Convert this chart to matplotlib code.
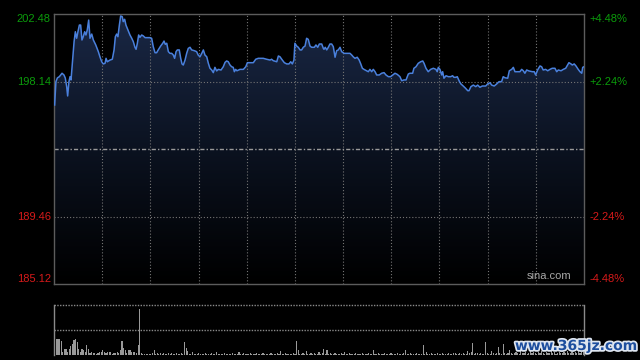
import matplotlib
matplotlib.use("Agg")
import matplotlib.pyplot as plt
import matplotlib.patheffects as pe
import matplotlib.transforms as mtrans
import numpy as np
from matplotlib.colors import LinearSegmentedColormap

# %% data (HK session, 330 minutes)
minutes = [
    0.4, 1.2, 2.1, 3.3, 5.0, 6.2, 7.0, 7.9, 8.5, 9.3, 10.0, 10.6, 11.4, 12.5, 13.3, 14.1, 14.9, 15.8, 16.6, 17.4,
    18.2, 19.1, 19.9, 20.7, 21.6, 22.4, 23.5, 24.5, 26.0, 27.6, 28.6, 29.7, 30.7, 31.8, 32.4, 33.2, 34.9, 36.3,
    37.4, 38.2, 39.0, 39.8, 40.7, 41.5, 42.5, 43.1, 44.0, 44.8, 45.6, 46.5, 47.3, 48.4, 49.4, 50.4, 51.1, 51.9,
    52.7, 53.5, 54.6, 55.6, 56.7, 59.8, 60.8, 61.8, 62.9, 63.9, 64.9, 66.4, 67.7, 68.5, 69.3, 70.2, 71.2, 72.2,
    73.3, 74.3, 75.1, 76.0, 76.8, 78.0, 78.9, 79.7, 80.5, 81.6, 82.6, 83.6, 84.7, 85.7, 87.4, 88.8, 89.8, 90.9,
    92.0, 93.0, 94.0, 95.1, 96.1, 97.1, 98.2, 99.2, 100.2, 101.3, 102.3, 104.0, 105.4, 106.5, 107.5, 108.5,
    109.6, 110.6, 111.6, 112.3, 113.1, 113.9, 115.8, 117.9, 119.4, 120.4, 122.0, 124.1, 125.6, 127.2, 130.3,
    132.4, 134.5, 135.5, 136.5, 138.7, 139.7, 140.7, 141.8, 143.4, 144.9, 146.3, 147.4, 148.4, 149.4, 150.0,
    151.1, 152.1, 153.2, 154.2, 155.2, 156.3, 157.3, 158.3, 159.4, 160.4, 162.1, 163.1, 164.2, 165.2, 166.7,
    167.7, 168.1, 168.9, 169.8, 170.8, 171.8, 172.9, 173.9, 175.0, 176.0, 177.0, 178.1, 179.1, 180.6, 184.3,
    185.4, 186.3, 187.4, 188.8, 190.0, 191.0, 192.0, 193.0, 194.7, 195.7, 196.7, 197.8, 198.8, 199.9, 200.9,
    202.5, 204.0, 205.5, 206.7, 208.2, 209.6, 210.9, 212.3, 213.7, 215.4, 216.5, 217.9, 219.2, 220.6, 221.6,
    223.3, 224.1, 225.4, 226.8, 228.3, 229.6, 230.4, 231.6, 233.0, 234.5, 236.2, 237.8, 238.6, 239.3, 240.3,
    241.4, 242.0, 242.8, 244.1, 245.5, 247.0, 248.2, 249.0, 250.3, 251.1, 252.3, 253.4, 254.8, 256.3, 257.6,
    258.4, 259.6, 261.1, 262.6, 263.8, 265.2, 266.7, 268.8, 270.0, 271.5, 272.5, 274.1, 275.6, 277.1, 278.7,
    279.7, 280.8, 282.5, 283.5, 285.0, 286.0, 287.0, 288.7, 290.1, 291.2, 292.2, 293.2, 294.3, 295.7, 297.8,
    299.0, 299.9, 301.1, 302.6, 303.6, 304.6, 306.1, 307.4, 308.8, 310.2, 311.9, 313.0, 314.0, 315.7, 317.1,
    318.6, 319.8, 320.6, 321.9, 322.7, 323.9, 325.0, 326.4, 327.5, 328.6, 329.2, 330.0,
]
prices = [
    196.63, 198.13, 198.37, 198.45, 198.67, 198.56, 198.37, 197.81, 197.21, 198.13, 198.45, 198.24, 199.31, 200.70,
    201.34, 200.92, 201.34, 201.77, 201.77, 200.81, 201.02, 201.34, 201.13, 201.45, 202.09, 200.92, 201.19, 200.81,
    200.49, 200.06, 199.73, 199.41, 199.27, 199.31, 199.63, 199.41, 199.52, 199.57, 200.17, 201.02, 201.19, 201.02,
    201.77, 202.35, 202.31, 201.99, 202.14, 201.77, 201.56, 201.34, 201.13, 200.92, 200.70, 200.34, 200.21, 200.60,
    201.13, 200.98, 201.13, 201.07, 200.96, 200.96, 200.92, 200.38, 199.99, 199.99, 200.17, 200.42, 200.60, 200.74,
    200.53, 200.60, 200.06, 199.95, 199.95, 199.84, 199.63, 200.06, 200.17, 200.17, 199.63, 199.27, 199.20, 199.52,
    199.95, 200.27, 200.34, 200.17, 200.12, 200.06, 199.84, 199.73, 199.95, 200.17, 199.84, 199.73, 199.31, 198.99,
    198.88, 198.71, 199.05, 198.82, 198.92, 198.88, 199.09, 199.37, 199.46, 199.41, 199.20, 199.09, 199.05, 198.77,
    198.92, 198.83, 198.92, 198.92, 199.09, 199.35, 199.35, 199.35, 199.57, 199.63, 199.63, 199.57, 199.52, 199.57,
    199.48, 199.41, 199.78, 199.73, 199.57, 199.35, 199.27, 199.27, 199.41, 199.27, 199.52, 200.60, 200.42, 200.34,
    200.17, 200.17, 200.34, 200.42, 200.92, 200.85, 200.42, 200.34, 200.34, 200.49, 200.34, 200.55, 200.55, 200.27,
    200.21, 200.34, 200.17, 200.34, 200.55, 200.55, 200.38, 199.70, 200.12, 200.17, 200.34, 200.06, 199.95, 199.95,
    199.84, 199.73, 199.63, 199.70, 199.52, 199.27, 198.99, 198.92, 198.83, 198.77, 198.92, 198.77, 198.92, 198.77,
    198.56, 198.56, 198.67, 198.71, 198.56, 198.45, 198.45, 198.56, 198.67, 198.60, 198.45, 198.19, 198.24, 198.24,
    198.62, 198.67, 198.67, 198.99, 199.09, 199.31, 199.41, 199.46, 199.31, 198.99, 198.77, 198.92, 198.99, 198.92,
    198.77, 199.05, 198.92, 198.56, 198.77, 198.35, 198.51, 198.45, 198.45, 198.51, 198.41, 198.41, 198.45, 198.17,
    197.98, 197.85, 197.70, 197.55, 197.55, 197.81, 197.91, 197.81, 197.91, 197.77, 197.85, 197.85, 197.98, 198.06,
    197.91, 197.85, 197.98, 198.13, 198.13, 198.45, 198.38, 198.35, 198.83, 198.92, 199.05, 198.77, 198.77, 198.77,
    198.92, 198.83, 198.67, 198.88, 198.82, 198.77, 198.77, 198.56, 198.88, 199.14, 199.09, 198.88, 198.92, 198.83,
    198.92, 198.99, 198.99, 198.77, 198.88, 198.83, 198.92, 198.99, 199.20, 199.35, 199.27, 199.20, 199.27, 199.14,
    198.92, 198.77, 198.67, 199.05, 199.09,
]
# volume per minute, relative to the panel top (=100)
volume = [
    25, 33, 33, 33, 28, 7, 13, 13, 7, 13, 18, 23, 30, 33, 27, 13, 7, 13, 11, 7,
    20, 13, 5, 7, 4, 5, 3, 4, 6, 6, 11, 6, 4, 7, 6, 7, 3, 5, 5, 6,
    4, 10, 28, 14, 11, 5, 11, 11, 6, 7, 6, 4, 20, 93, 5, 3, 2, 3, 2, 3,
    2, 4, 10, 3, 4, 2, 4, 3, 4, 2, 3, 4, 2, 4, 3, 2, 4, 3, 2, 4,
    3, 26, 15, 9, 3, 2, 6, 2, 3, 2, 4, 3, 2, 3, 4, 2, 3, 2, 4, 3,
    2, 6, 3, 2, 3, 2, 4, 3, 2, 3, 2, 4, 3, 2, 3, 6, 3, 2, 4, 2,
    3, 2, 4, 3, 2, 3, 4, 2, 3, 2, 4, 3, 2, 3, 2, 4, 3, 2, 3, 4,
    2, 8, 3, 2, 4, 3, 2, 3, 2, 4, 3, 28, 11, 3, 2, 4, 3, 8, 2, 3,
    4, 2, 5, 3, 2, 6, 3, 4, 13, 3, 10, 2, 4, 3, 2, 4, 3, 2, 3, 4,
    2, 6, 3, 2, 4, 3, 2, 3, 4, 2, 3, 2, 4, 3, 2, 3, 4, 2, 3, 10,
    3, 2, 4, 3, 2, 3, 4, 2, 3, 2, 4, 3, 2, 3, 4, 2, 3, 2, 4, 11,
    3, 2, 4, 3, 2, 3, 4, 2, 3, 2, 20, 3, 7, 2, 3, 4, 2, 3, 2, 4,
    3, 2, 4, 3, 2, 3, 4, 2, 3, 4, 5, 3, 2, 4, 3, 4, 2, 3, 8, 4,
    6, 25, 3, 4, 5, 3, 4, 3, 2, 26, 4, 3, 2, 8, 4, 3, 5, 17, 4, 3,
    22, 4, 3, 5, 11, 4, 3, 5, 6, 4, 3, 8, 5, 4, 6, 3, 5, 12, 4, 6,
    5, 3, 6, 4, 8, 5, 3, 6, 4, 5, 9, 4, 6, 3, 5, 7, 4, 5, 6, 4,
    8, 5, 4, 6, 5, 7, 4, 9, 5, 6, 8,
]
prev_close = 193.80
price_ticks = [202.48, 198.14, 189.46, 185.12]
price_labels = ["202.48", "198.14", "189.46", "185.12"]
pct_labels = ["+4.48%", "+2.24%", "-2.24%", "-4.48%"]
tick_colors = ["#0b9c0b", "#0b9c0b", "#d61a1a", "#d61a1a"]

# %% figure
W, H = 640, 360
fig = plt.figure(figsize=(6.4, 3.6), dpi=100, facecolor="black")
font = "Liberation Sans"

ax = fig.add_axes([54 / W, 1 - 284 / H, 530 / W, 270 / H])
ax.set_facecolor("black")
ax.set_xlim(0, 330)
ax.set_ylim(185.12, 202.48)
ax.set_xticks([])
ax.set_yticks([])
for s in ax.spines.values():
    s.set_color("#5c5c5c")
    s.set_linewidth(1.0)

# gradient fill under the line
poly = ax.fill_between(minutes, prices, 185.12, color="none", lw=0)
cmap = LinearSegmentedColormap.from_list("fill", ["#000000", "#0b1220", "#1a2846"])
grad = np.linspace(1, 0, 256).reshape(-1, 1)
im = ax.imshow(grad, extent=[0, 330, 185.12, 202.48], aspect="auto", cmap=cmap,
               origin="upper", vmin=0, vmax=1, zorder=1)
im.set_clip_path(poly.get_paths()[0], transform=ax.transData)

# grid
for xv in range(30, 330, 30):
    ax.axvline(xv, color="#747474", lw=0.8, ls=(0, (1, 1.8)), zorder=2)
for yv in [198.14, 189.46]:
    ax.axhline(yv, color="#747474", lw=0.8, ls=(0, (1, 1.8)), zorder=2)
ax.axhline(prev_close, color="#9a9a9a", lw=1.0, ls=(0, (3, 1.5, 1, 1.5)), zorder=2)

ax.plot(minutes, prices, color="#4a80dc", lw=1.1, zorder=3)

ax.text(0.977, 0.012, "sina.com", transform=ax.transAxes, ha="right", va="bottom",
        color="#a8a8a8", fontsize=8, family=font, zorder=4)

blend_l = mtrans.blended_transform_factory(ax.transAxes, ax.transData)
vas = ["top", "center", "center", "bottom"]
for p, lab, pct, c, va in zip(price_ticks, price_labels, pct_labels, tick_colors, vas):
    ax.text(-0.006, p, lab, transform=blend_l, ha="right", va=va, color=c,
            fontsize=8, family=font)
    ax.text(1.011, p, pct, transform=blend_l, ha="left", va=va, color=c,
            fontsize=8, family=font)

# volume panel
vax = fig.add_axes([54 / W, 1 - 355 / H, 530 / W, 50 / H])
vax.set_facecolor("black")
vax.set_xlim(-0.5, 330.5)
vax.set_ylim(0, 100)
vax.set_xticks([])
vax.set_yticks([])
vax.spines["top"].set_visible(False)
vax.spines["bottom"].set_visible(False)
for k in ["left", "right"]:
    vax.spines[k].set_color("#8a8a8a")
    vax.spines[k].set_linewidth(1.0)
vax.axhline(100, color="#8a8a8a", lw=1.0, ls=(0, (1, 1)), clip_on=False)
vax.axhline(50, color="#8a8a8a", lw=1.0, ls=(0, (1, 1)))
vax.bar(np.arange(len(volume)), volume, width=0.7, color="#999999", lw=0)

# site watermark
fig.text(576 / W, 1 - 346 / H, "www.365jz.com", ha="center", va="center",
         color="#1d4e9e", fontsize=10, fontweight="bold", family="DejaVu Sans",
         path_effects=[pe.withStroke(linewidth=2.5, foreground="#dfe6f0")])

fig.savefig("out.png", dpi=100, facecolor="black")
